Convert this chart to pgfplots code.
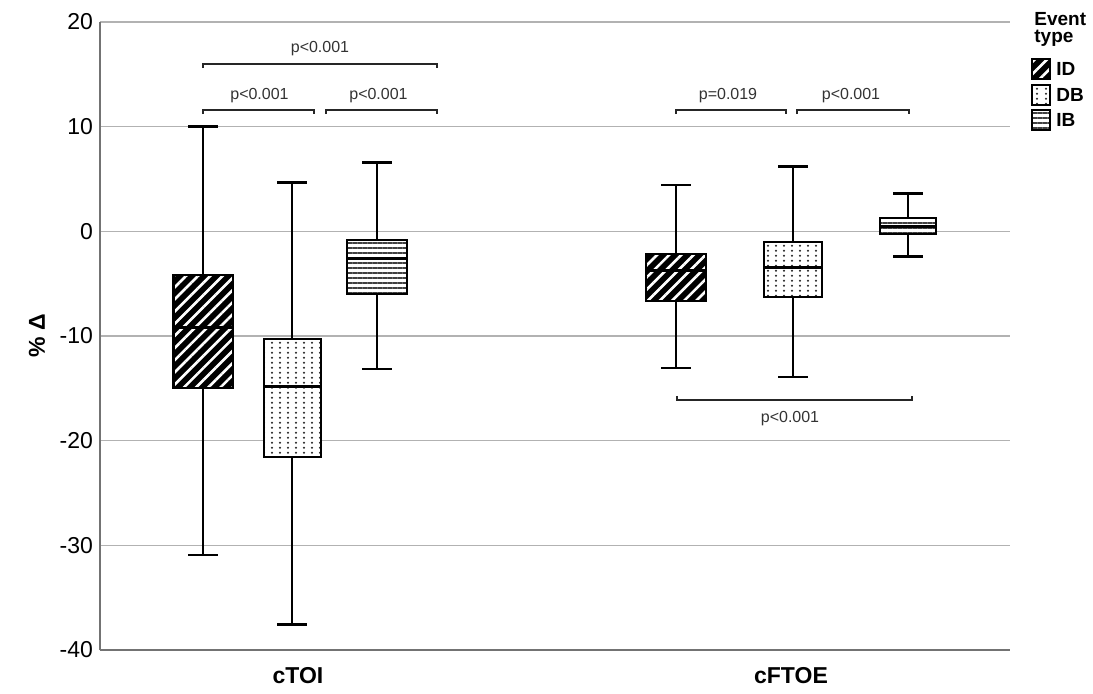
\documentclass[border=0pt]{standalone}
\usepackage{pgfplots}
\pgfplotsset{compat=1.18}
\usetikzlibrary{patterns,patterns.meta}
\usepackage{fontspec}
\setmainfont{Liberation Sans}

\pgfdeclarepatternformonly{dbdots}{\pgfpointorigin}{\pgfpoint{4.2pt}{2.6pt}}{\pgfpoint{4.2pt}{2.6pt}}{\pgfpathcircle{\pgfpoint{2.1pt}{1.3pt}}{0.62pt}\pgfusepath{fill}}

\tikzset{
  idbox/.style={preaction={fill=black}, pattern={Lines[angle=45,distance=4.3pt,line width=1.3pt]}, pattern color=white, draw=black, line width=1pt, line cap=rect},
  dbbox/.style={preaction={fill=white}, pattern=dbdots, pattern color=black!85, draw=black, line width=1pt, line cap=rect},
  ibbox/.style={preaction={fill=white}, pattern={Lines[angle=0,distance=2.5pt,line width=0.75pt]}, pattern color=black!75, draw=black, line width=1pt, line cap=rect},
  whisk/.style={draw=black, line width=1.45pt},
  med/.style={draw=black, line width=1.5pt},
  brk/.style={draw=black!85, line width=1.1pt},
  ptxt/.style={font=\fontsize{8}{9}\selectfont, text=black!80, anchor=base, inner sep=0pt},
  lgt/.style={inner sep=0pt, font=\bfseries\fontsize{9.5}{10}\selectfont},
}

\begin{document}
\begin{tikzpicture}
\begin{axis}[
  name=ax,
  scale only axis, width=455pt, height=314pt,
  xmin=0, xmax=910, ymin=-40, ymax=20,
  axis x line*=bottom, axis y line*=left,
  axis line style={draw=black!55, line width=0.8pt, -},
  ytick={-40,-30,-20,-10,0,10,20},
  yticklabels={-40,-30,-20,-10,0,10,20},
  ymajorgrids, major grid style={draw=black!30, line width=0.8pt},
  xtick={198,691}, xticklabels={\textbf{cTOI},\textbf{cFTOE}},
  major tick length=0pt, tick style={draw=none},
  yticklabel style={font=\fontsize{11.5}{12}\selectfont},
  xticklabel style={font=\fontsize{11.5}{12}\selectfont, yshift=-5pt},
  ylabel={\textbf{\% Δ}},
  every axis y label/.style={at={(axis cs:-63,-10)}, rotate=90, anchor=center, font=\fontsize{11.5}{12}\selectfont},
  clip=false,
]
% ---- cTOI, ID (x=103)
\addplot[whisk] coordinates {(103,-4.17) (103,10) (88,10) (118,10)};
\addplot[whisk] coordinates {(103,-14.94) (103,-30.92) (88,-30.92) (118,-30.92)};
\addplot[idbox] coordinates {(73.5,-14.94) (132.5,-14.94) (132.5,-4.17) (73.5,-4.17) (73.5,-14.94)};
\addplot[med] coordinates {(73.5,-9.2) (132.5,-9.2)};
% ---- cTOI, DB (x=192)
\addplot[whisk] coordinates {(192,-10.32) (192,4.7) (177,4.7) (207,4.7)};
\addplot[whisk] coordinates {(192,-21.59) (192,-37.6) (177,-37.6) (207,-37.6)};
\addplot[dbbox] coordinates {(163.5,-21.59) (220.5,-21.59) (220.5,-10.32) (163.5,-10.32) (163.5,-21.59)};
\addplot[med] coordinates {(163.5,-14.87) (220.5,-14.87)};
% ---- cTOI, IB (x=277)
\addplot[whisk] coordinates {(277,-0.83) (277,6.56) (262,6.56) (292,6.56)};
\addplot[whisk] coordinates {(277,-5.99) (277,-13.15) (262,-13.15) (292,-13.15)};
\addplot[ibbox] coordinates {(247,-5.99) (307,-5.99) (307,-0.83) (247,-0.83) (247,-5.99)};
\addplot[med] coordinates {(247,-2.58) (307,-2.58)};
% ---- cFTOE, ID (x=576)
\addplot[whisk] coordinates {(576,-2.2) (576,4.43) (561,4.43) (591,4.43)};
\addplot[whisk] coordinates {(576,-6.66) (576,-13.06) (561,-13.06) (591,-13.06)};
\addplot[idbox] coordinates {(546,-6.66) (606,-6.66) (606,-2.2) (546,-2.2) (546,-6.66)};
\addplot[med] coordinates {(546,-3.7) (606,-3.7)};
% ---- cFTOE, DB (x=693)
\addplot[whisk] coordinates {(693,-1.05) (693,6.18) (678,6.18) (708,6.18)};
\addplot[whisk] coordinates {(693,-6.25) (693,-13.92) (678,-13.92) (708,-13.92)};
\addplot[dbbox] coordinates {(664,-6.25) (722,-6.25) (722,-1.05) (664,-1.05) (664,-6.25)};
\addplot[med] coordinates {(664,-3.44) (722,-3.44)};
% ---- cFTOE, IB (x=808)
\addplot[whisk] coordinates {(808,1.3) (808,3.63) (793,3.63) (823,3.63)};
\addplot[whisk] coordinates {(808,-0.29) (808,-2.42) (793,-2.42) (823,-2.42)};
\addplot[ibbox] coordinates {(780,-0.29) (836,-0.29) (836,1.3) (780,1.3) (780,-0.29)};
\addplot[med] coordinates {(780,0.45) (836,0.45)};

% significance brackets
\draw[brk] (axis cs:103,11.19) -- (axis cs:103,11.59) -- (axis cs:214,11.59) -- (axis cs:214,11.19);
\draw[brk] (axis cs:226,11.19) -- (axis cs:226,11.59) -- (axis cs:337,11.59) -- (axis cs:337,11.19);
\draw[brk] (axis cs:103,15.59) -- (axis cs:103,15.99) -- (axis cs:337,15.99) -- (axis cs:337,15.59);
\node[ptxt] at (axis cs:159.5,12.55) {p<0.001};
\node[ptxt] at (axis cs:278.5,12.55) {p<0.001};
\node[ptxt] at (axis cs:220,17.13) {p<0.001};
\draw[brk] (axis cs:576,11.19) -- (axis cs:576,11.59) -- (axis cs:686,11.59) -- (axis cs:686,11.19);
\draw[brk] (axis cs:697,11.19) -- (axis cs:697,11.59) -- (axis cs:809,11.59) -- (axis cs:809,11.19);
\node[ptxt] at (axis cs:628,12.55) {p=0.019};
\node[ptxt] at (axis cs:751,12.55) {p<0.001};
\draw[brk] (axis cs:577,-15.72) -- (axis cs:577,-16.12) -- (axis cs:812,-16.12) -- (axis cs:812,-15.72);
\node[ptxt] at (axis cs:690,-18.31) {p<0.001};

% legend
\node[lgt, anchor=base west] at (axis cs:934,19.66) {Event};
\node[lgt, anchor=base west] at (axis cs:934,18.0) {type};
\draw[idbox, line width=0.8pt] (axis cs:932,14.55) rectangle (axis cs:950,16.46);
\draw[dbbox, line width=0.8pt] (axis cs:932,12.07) rectangle (axis cs:950,13.98);
\draw[ibbox, line width=0.8pt] (axis cs:932,9.68) rectangle (axis cs:950,11.59);
\node[lgt, anchor=west] at (axis cs:956,15.5) {ID};
\node[lgt, anchor=west] at (axis cs:956,13.03) {DB};
\node[lgt, anchor=west] at (axis cs:956,10.64) {IB};
\end{axis}
\pgfresetboundingbox
\path[use as bounding box] ([shift={(-50pt,-21.5pt)}]ax.south west) rectangle ([shift={(496.5pt,325pt)}]ax.south west);
\end{tikzpicture}
\end{document}
